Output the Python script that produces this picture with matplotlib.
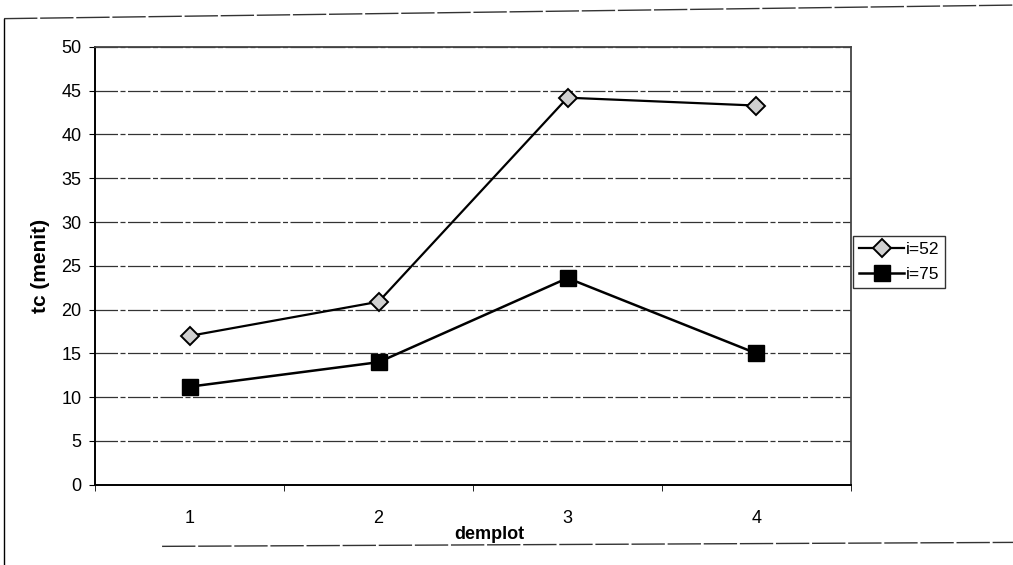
import matplotlib.pyplot as plt
from matplotlib.lines import Line2D

plt.rcParams["font.family"] = ["Liberation Sans", "DejaVu Sans"]

demplot = [1, 2, 3, 4]
tc_i52 = [17.0, 20.9, 44.2, 43.3]
tc_i75 = [11.2, 14.0, 23.6, 15.0]
series_labels = ["i=52", "i=75"]
y_ticks = [0, 5, 10, 15, 20, 25, 30, 35, 40, 45, 50]


def main():
    fig = plt.figure(figsize=(10.13, 5.65), dpi=100)
    ax = fig.add_axes([0.094, 0.142, 0.746, 0.775])

    ax.plot(demplot, tc_i52, color="black", lw=1.6, marker="D", ms=9,
            mfc="#d0d0d0", mec="black", mew=1.4, label=series_labels[0], zorder=3)
    ax.plot(demplot, tc_i75, color="black", lw=1.8, marker="s", ms=11,
            mfc="black", mec="black", label=series_labels[1], zorder=3)

    ax.set_xlim(0.5, 4.5)
    ax.set_ylim(0, 50)
    ax.set_yticks(y_ticks)
    ax.set_xticks(demplot)
    # category ticks sit between the categories, like an Excel category axis
    ax.set_xticks([0.5, 1.5, 2.5, 3.5, 4.5], minor=True)
    ax.tick_params(axis="x", which="major", length=0, pad=18, labelsize=13)
    ax.tick_params(axis="x", which="minor", length=4, direction="out")
    ax.tick_params(axis="y", length=4, direction="out", labelsize=13, pad=6)

    ax.yaxis.grid(True, color="#333333", lw=0.9, linestyle=(0, (18, 2, 4, 2)))
    ax.set_axisbelow(True)

    for side in ("left", "bottom"):
        ax.spines[side].set_color("black")
        ax.spines[side].set_linewidth(1.4)
    for side in ("top", "right"):
        ax.spines[side].set_color("#444444")
        ax.spines[side].set_linewidth(1.3)
        ax.spines[side].set_linestyle((0, (1.5, 1)))

    ax.set_ylabel("tc (menit)", fontsize=15, fontweight="bold", labelpad=8)
    ax.set_xlabel("demplot", fontsize=13, fontweight="bold")
    ax.xaxis.set_label_coords(0.522, -0.095)

    leg = fig.legend(loc="center left", bbox_to_anchor=(0.842, 0.536),
                     frameon=True, fancybox=False, edgecolor="black",
                     fontsize=12.5, handlelength=2.6, handletextpad=0.1,
                     borderpad=0.35, labelspacing=0.55, borderaxespad=0)
    leg.get_frame().set_linewidth(1.0)

    # outer chart frame from the page
    fig.add_artist(Line2D([0.004, 0.004], [0.0, 0.967], color="black", lw=1.0,
                          transform=fig.transFigure))
    fig.add_artist(Line2D([0.004, 1.0], [0.967, 0.991], color="#333333", lw=1.0,
                          linestyle=(0, (24, 2)), transform=fig.transFigure))
    fig.add_artist(Line2D([0.16, 1.0], [0.033, 0.04], color="#333333", lw=1.0,
                          linestyle=(0, (24, 2)), transform=fig.transFigure))

    fig.savefig("out.png", dpi=100)


if __name__ == "__main__":
    main()
